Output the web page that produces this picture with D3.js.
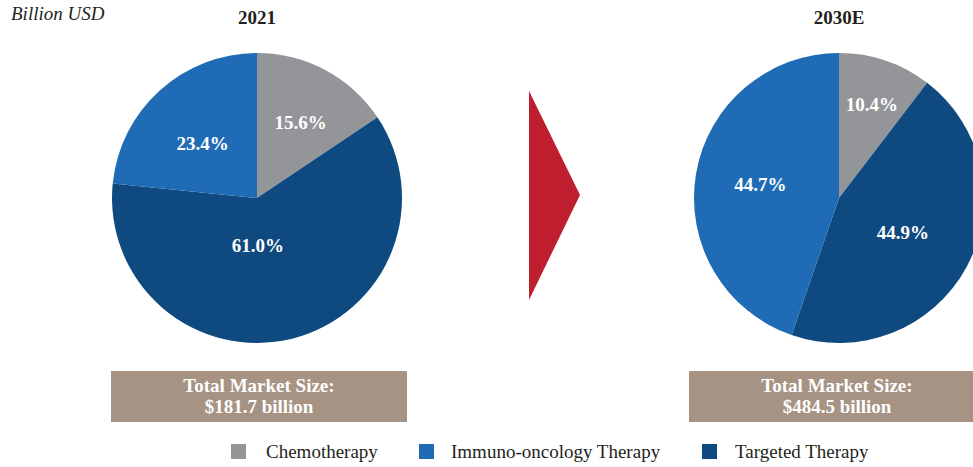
<!DOCTYPE html>
<html>
<head>
<meta charset="utf-8">
<script src="https://cdn.jsdelivr.net/npm/d3@7"></script>
<style>
  body { margin: 0; background: #fff; }
  text { font-family: "Liberation Serif", "DejaVu Serif", serif; }
</style>
</head>
<body>
<svg id="canvas" width="973" height="467"></svg>
<script>
// data
let categories = ["Chemotherapy", "Targeted Therapy", "Immuno-oncology Therapy"];
let legendOrder = ["Chemotherapy", "Immuno-oncology Therapy", "Targeted Therapy"];
let years = ["2021", "2030E"];
let share2021 = [15.6, 61.0, 23.4];
let share2030 = [10.4, 44.9, 44.7];
let totals = ["$181.7 billion", "$484.5 billion"];

let colors = {
    "Chemotherapy": "#939598",
    "Immuno-oncology Therapy": "#206bb5",
    "Targeted Therapy": "#0e4a80"
};

// label placement: [fraction of radius, extra angle in degrees]
let labelPlace = [
    [[0.6, 2], [0.33, 13], [0.534, -2.5]],
    [[0.687, 0.5], [0.5, 0], [0.55, 0]]
];

let serif = "'Liberation Serif', 'DejaVu Serif', serif";
let canvas = d3.select("#canvas");
let radius = 145;
let centersX = [257, 839];
let boxX = [111, 689];
let centerY = 198;

canvas.append("text")
    .attr("x", 11)
    .attr("y", 20)
    .attr("font-family", serif)
    .attr("font-size", "19px")
    .attr("font-style", "italic")
    .attr("fill", "#231f20")
    .text("Billion USD");

let pie = d3.pie().sort(null).value((d) => d.value);
let arc = d3.arc().innerRadius(0).outerRadius(radius);

[share2021, share2030].forEach((values, i) => {
    let rows = categories.map((c, j) => ({ name: c, value: values[j] }));
    let g = canvas.append("g")
        .attr("transform", "translate(" + centersX[i] + "," + centerY + ")");

    g.selectAll("path")
        .data(pie(rows))
        .enter()
        .append("path")
        .attr("d", arc)
        .attr("fill", (d) => colors[d.data.name]);

    g.selectAll("text.pct")
        .data(pie(rows))
        .enter()
        .append("text")
        .attr("class", "pct")
        .attr("transform", (d, j) => {
            let r = radius * labelPlace[i][j][0];
            let a = (d.startAngle + d.endAngle) / 2 + labelPlace[i][j][1] * Math.PI / 180;
            return "translate(" + (Math.sin(a) * r) + "," + (-Math.cos(a) * r) + ")";
        })
        .attr("text-anchor", "middle")
        .attr("dy", "0.35em")
        .attr("font-family", serif)
        .attr("font-size", "19px")
        .attr("font-weight", "bold")
        .attr("fill", "#fff")
        .text((d) => d.data.value.toFixed(1) + "%");

    canvas.append("text")
        .attr("x", centersX[i])
        .attr("y", 24)
        .attr("text-anchor", "middle")
        .attr("font-family", serif)
        .attr("font-size", "19px")
        .attr("font-weight", "bold")
        .attr("fill", "#231f20")
        .text(years[i]);

    // total box
    canvas.append("rect")
        .attr("x", boxX[i])
        .attr("y", 371)
        .attr("width", 296)
        .attr("height", 51)
        .attr("fill", "#a69383");

    canvas.append("text")
        .attr("x", boxX[i] + 148)
        .attr("y", 392)
        .attr("text-anchor", "middle")
        .attr("font-family", serif)
        .attr("font-size", "19px")
        .attr("font-weight", "bold")
        .attr("fill", "#fff")
        .text("Total Market Size:");

    canvas.append("text")
        .attr("x", boxX[i] + 148)
        .attr("y", 413)
        .attr("text-anchor", "middle")
        .attr("font-family", serif)
        .attr("font-size", "19px")
        .attr("font-weight", "bold")
        .attr("fill", "#fff")
        .text(totals[i]);
});

// arrow
canvas.append("path")
    .attr("d", "M529,91 L580,195 L529,300 Z")
    .attr("fill", "#be1e2d");

// legend
let legendX = [231, 419, 702];
let legendTextX = [266, 451, 735];
let legend = canvas.selectAll("g.legend")
    .data(legendOrder)
    .enter()
    .append("g")
    .attr("class", "legend");

legend.append("rect")
    .attr("x", (d, i) => legendX[i])
    .attr("y", 444)
    .attr("width", 15)
    .attr("height", 15)
    .attr("fill", (d) => colors[d]);

legend.append("text")
    .attr("x", (d, i) => legendTextX[i])
    .attr("y", 458)
    .attr("font-family", serif)
    .attr("font-size", "19px")
    .attr("fill", "#231f20")
    .text((d) => d);
</script>
</body>
</html>
